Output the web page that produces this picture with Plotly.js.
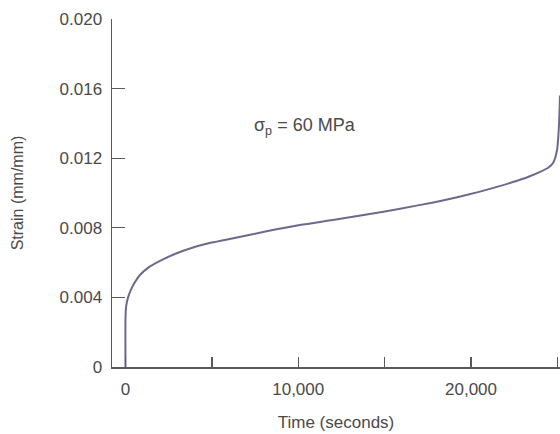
<!DOCTYPE html>
<html>
<head>
<meta charset="utf-8">
<script src="https://cdn.plot.ly/plotly-3.0.1.min.js"></script>
<style>html,body{margin:0;padding:0;background:#fff;}#chart{width:560px;height:434px;}</style>
</head>
<body>
<div id="chart"></div>
<script>
// Creep curve (time in seconds, strain in mm/mm)
const timeSeconds = [0, 0, 40, 150, 300, 500, 850, 1300, 2200, 3000, 4000, 5000, 6240, 8170, 10100, 12000, 13960, 15900, 17820, 19200, 20520, 21500, 22430, 23300, 24000, 24500, 24750, 24980, 25094, 25152];
const strainValues = [0, 0.0028, 0.0035, 0.0040, 0.0044, 0.0048, 0.0053, 0.0057, 0.0062, 0.00655, 0.0069, 0.00715, 0.0074, 0.0078, 0.00816, 0.00845, 0.00876, 0.0091, 0.00946, 0.00976, 0.01008, 0.01035, 0.01063, 0.01092, 0.01121, 0.01148, 0.01172, 0.01247, 0.0139, 0.0156];

const xTickVals = [0, 5000, 10000, 15000, 20000, 25000];
const xTickText = ['0', '', '10,000', '', '20,000', ''];
const yTickVals = [0, 0.004, 0.008, 0.012, 0.016, 0.020];
const yTickText = ['0', '0.004', '0.008', '0.012', '0.016', '0.020'];
const stressLabel = 'σ<sub>p</sub>\u00a0= 60 MPa';

const textColor = '#4a4a4a';
const axisColor = '#5a5a5a';
const fontFamily = '"Liberation Sans", Arial, Helvetica, sans-serif';

const data = [{
  x: timeSeconds,
  y: strainValues,
  type: 'scatter',
  mode: 'lines',
  line: {color: '#6b6a8c', width: 2, shape: 'spline', smoothing: 0.6},
  hoverinfo: 'skip'
}];

const layout = {
  width: 560,
  height: 434,
  margin: {l: 112, r: 0, t: 19, b: 67},
  paper_bgcolor: '#ffffff',
  plot_bgcolor: '#ffffff',
  showlegend: false,
  font: {family: fontFamily, color: textColor, size: 17},
  xaxis: {
    range: [-781, 25152],
    showgrid: false,
    zeroline: false,
    showline: true,
    linecolor: axisColor,
    linewidth: 1.5,
    ticks: 'inside',
    ticklen: 10,
    tickwidth: 1.3,
    tickcolor: axisColor,
    tickvals: xTickVals,
    ticktext: xTickText,
    ticklabelstandoff: 6,
    tickfont: {family: fontFamily, size: 17, color: textColor},
    title: {text: 'Time (seconds)', font: {family: fontFamily, size: 17, color: textColor}, standoff: 18}
  },
  yaxis: {
    range: [0, 0.020],
    showgrid: false,
    zeroline: false,
    showline: true,
    linecolor: axisColor,
    linewidth: 1.5,
    ticks: 'inside',
    ticklen: 13,
    tickwidth: 1.3,
    tickcolor: axisColor,
    tickvals: yTickVals,
    ticktext: yTickText,
    ticklabelstandoff: 5,
    tickfont: {family: fontFamily, size: 17, color: textColor},
    title: {text: 'Strain (mm/mm)', font: {family: fontFamily, size: 16, color: textColor}, standoff: 32}
  },
  annotations: [{
    x: 7300, y: 0.0138,
    xref: 'x', yref: 'y',
    xanchor: 'left', yanchor: 'middle',
    text: stressLabel,
    showarrow: false,
    font: {family: fontFamily, size: 18, color: textColor}
  }]
};

Plotly.newPlot('chart', data, layout, {staticPlot: true, displayModeBar: false});
</script>
</body>
</html>
